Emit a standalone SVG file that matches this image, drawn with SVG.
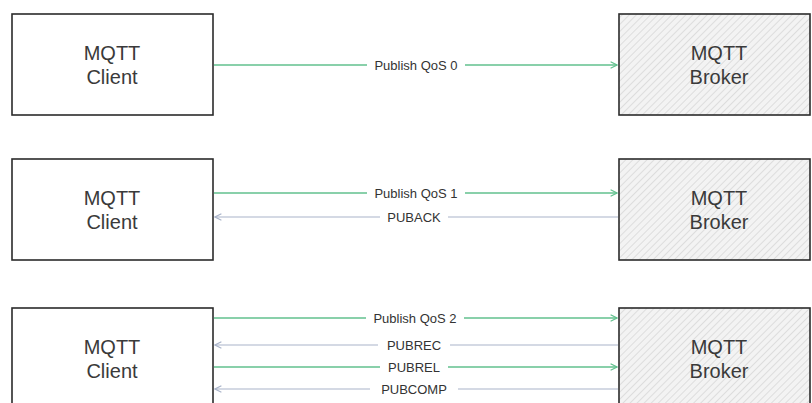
<svg xmlns="http://www.w3.org/2000/svg" width="812" height="403" viewBox="0 0 812 403">
<style>
.box{fill:#fff;stroke:#2b2b2b;stroke-width:1.6}
.broker{fill:url(#hatch);stroke:#2b2b2b;stroke-width:1.6}
.nt{font-family:"Liberation Sans",Arial,sans-serif;font-size:20px;fill:#3a3a3a;text-anchor:middle}
.lt{font-family:"Liberation Sans",Arial,sans-serif;font-size:13px;fill:#333;text-anchor:middle}
.g{stroke:#62c08e;stroke-width:1.4;fill:none}
.b{stroke:#a9b3c9;stroke-width:1.2;fill:none}
.bg{fill:#fff;stroke:none}
</style>
<defs>
<pattern id="hatch" patternUnits="userSpaceOnUse" width="5" height="5" patternTransform="rotate(45)">
<rect width="5" height="5" fill="#f3f3f3"/>
<line x1="0" y1="0" x2="0" y2="5" stroke="#c8c8c8" stroke-width="1"/>
</pattern>
<marker id="ag" viewBox="0 0 10 10" refX="9" refY="5" markerWidth="8" markerHeight="8" orient="auto" markerUnits="userSpaceOnUse">
<path d="M1,1 L9,5 L1,9" fill="none" stroke="#62c08e" stroke-width="1.5"/>
</marker>
<marker id="ab" viewBox="0 0 10 10" refX="9" refY="5" markerWidth="8" markerHeight="8" orient="auto" markerUnits="userSpaceOnUse">
<path d="M1,1 L9,5 L1,9" fill="none" stroke="#a9b3c9" stroke-width="1.5"/>
</marker>
</defs>
<rect width="812" height="403" fill="#fff"/>

<g id="client1"><rect class="box" x="12" y="14" width="201" height="101"/><text class="nt" x="112" y="60">MQTT</text><text class="nt" x="112" y="84">Client</text></g>
<g id="broker1"><rect class="broker" x="619" y="14" width="191" height="101"/><text class="nt" x="719" y="60">MQTT</text><text class="nt" x="719" y="84">Broker</text></g>

<g id="client2"><rect class="box" x="12" y="159" width="201" height="101"/><text class="nt" x="112" y="205">MQTT</text><text class="nt" x="112" y="229">Client</text></g>
<g id="broker2"><rect class="broker" x="619" y="159" width="191" height="101"/><text class="nt" x="719" y="205">MQTT</text><text class="nt" x="719" y="229">Broker</text></g>

<g id="client3"><rect class="box" x="12" y="308" width="201" height="110"/><text class="nt" x="112" y="354">MQTT</text><text class="nt" x="112" y="378">Client</text></g>
<g id="broker3"><rect class="broker" x="619" y="308" width="191" height="110"/><text class="nt" x="719" y="354">MQTT</text><text class="nt" x="719" y="378">Broker</text></g>

<g id="connectors">
<line class="g" x1="214" y1="65" x2="617" y2="65" marker-end="url(#ag)"/>
<rect class="bg" x="367" y="57" width="98" height="16"/>
<text class="lt" x="416" y="70">Publish QoS 0</text>

<line class="g" x1="214" y1="193" x2="617" y2="193" marker-end="url(#ag)"/>
<rect class="bg" x="367" y="185" width="98" height="16"/>
<text class="lt" x="416" y="198">Publish QoS 1</text>
<line class="b" x1="618" y1="217" x2="215" y2="217" marker-end="url(#ab)"/>
<rect class="bg" x="380" y="209" width="68" height="16"/>
<text class="lt" x="414" y="222">PUBACK</text>

<line class="g" x1="214" y1="318" x2="617" y2="318" marker-end="url(#ag)"/>
<rect class="bg" x="366" y="310" width="98" height="16"/>
<text class="lt" x="415" y="323">Publish QoS 2</text>
<line class="b" x1="618" y1="345" x2="215" y2="345" marker-end="url(#ab)"/>
<rect class="bg" x="378" y="337" width="72" height="16"/>
<text class="lt" x="414" y="350">PUBREC</text>
<line class="g" x1="214" y1="367" x2="617" y2="367" marker-end="url(#ag)"/>
<rect class="bg" x="380" y="359" width="68" height="16"/>
<text class="lt" x="414" y="372">PUBREL</text>
<line class="b" x1="618" y1="389" x2="215" y2="389" marker-end="url(#ab)"/>
<rect class="bg" x="370" y="381" width="88" height="16"/>
<text class="lt" x="414" y="394">PUBCOMP</text>
</g>
</svg>
